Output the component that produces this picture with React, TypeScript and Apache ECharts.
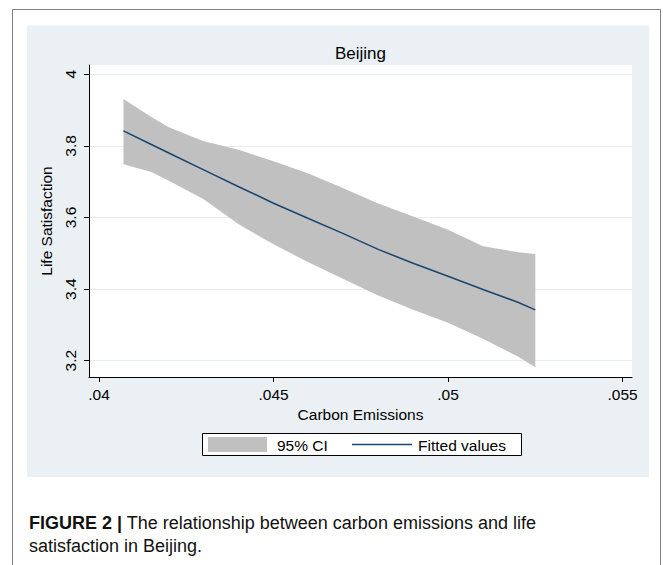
import React, { useEffect, useRef } from "react";
import * as echarts from "echarts";

// Carbon emissions (x) at which the fitted curve and CI are drawn
const xValues = [0.0407, 0.0415, 0.042, 0.043, 0.044, 0.045, 0.046, 0.047, 0.048, 0.049, 0.05, 0.051, 0.052, 0.0525];
// Fitted life satisfaction
const fittedValues = [3.842, 3.804, 3.78, 3.733, 3.686, 3.64, 3.597, 3.555, 3.511, 3.472, 3.436, 3.399, 3.363, 3.342];
// 95% CI upper / lower bounds
const ciUpper = [3.931, 3.881, 3.852, 3.813, 3.789, 3.757, 3.723, 3.682, 3.639, 3.603, 3.566, 3.52, 3.503, 3.498];
const ciLower = [3.749, 3.727, 3.703, 3.651, 3.581, 3.525, 3.475, 3.428, 3.382, 3.342, 3.306, 3.261, 3.212, 3.182];

const xTickValues = [0.04, 0.045, 0.05, 0.055];
const xTickLabels = [".04", ".045", ".05", ".055"];
const yTickValues = [3.2, 3.4, 3.6, 3.8, 4];
const yTickLabels = ["3.2", "3.4", "3.6", "3.8", "4"];

const chartTitle = "Beijing";
const xAxisTitle = "Carbon Emissions";
const yAxisTitle = "Life Satisfaction";
const legendLabels = ["95% CI", "Fitted values"];
const captionBold = "FIGURE 2 |";
const captionLine1 = " The relationship between carbon emissions and life";
const captionLine2 = "satisfaction in Beijing.";

const FONT = "'Liberation Sans', Arial, Helvetica, sans-serif";
const BAND = "#C0C0C0";
const NAVY = "#1A476F";

export default function App() {
  const ref = useRef<HTMLDivElement>(null);

  useEffect(() => {
    if (!ref.current) return;
    const chart = echarts.init(ref.current, null, { renderer: "svg" });

    const labelFor = (vals: number[], labels: string[]) => (v: number) => {
      const i = vals.findIndex((t) => Math.abs(t - v) < 1e-9);
      return i >= 0 ? labels[i] : "";
    };

    const bandData = xValues.map((x, i) => [x, ciLower[i], ciUpper[i]]);

    const option: any = {
      animation: false,
      backgroundColor: "#ffffff",
      textStyle: { fontFamily: FONT },
      grid: {
        left: 89,
        top: 65,
        width: 543,
        height: 312,
        show: true,
        backgroundColor: "#ffffff",
        borderWidth: 0,
        containLabel: false,
      },
      xAxis: {
        type: "value",
        min: 0.039713,
        max: 0.05527,
        axisLine: { show: true, onZero: false, lineStyle: { color: "#000", width: 1 } },
        axisTick: { show: true, length: 5, customValues: xTickValues, lineStyle: { color: "#000" } },
        axisLabel: {
          customValues: xTickValues,
          formatter: labelFor(xTickValues, xTickLabels),
          margin: 9,
          fontSize: 15.5,
          color: "#000",
          fontFamily: FONT,
        },
        splitLine: { show: false },
        name: xAxisTitle,
        nameLocation: "middle",
        nameGap: 22,
        nameTextStyle: { fontSize: 15.5, color: "#000", fontFamily: FONT },
      },
      yAxis: {
        type: "value",
        min: 3.1545,
        max: 4.026,
        axisLine: { show: true, onZero: false, lineStyle: { color: "#000", width: 1 } },
        axisTick: { show: true, length: 5, customValues: yTickValues, lineStyle: { color: "#000" } },
        axisLabel: {
          customValues: yTickValues,
          formatter: labelFor(yTickValues, yTickLabels),
          rotate: 90,
          margin: 11,
          fontSize: 15.5,
          color: "#000",
          fontFamily: FONT,
        },
        splitLine: { show: true, lineStyle: { color: "#E3EDF2", width: 1 } },
        name: yAxisTitle,
        nameLocation: "middle",
        nameGap: 21,
        nameTextStyle: { fontSize: 15.5, color: "#000", fontFamily: FONT },
      },
      series: [
        {
          type: "custom",
          name: legendLabels[0],
          silent: true,
          z: 2,
          encode: { x: 0, y: [1, 2] },
          data: bandData,
          renderItem: (params: any, api: any) => {
            if (params.dataIndex !== 0) return null;
            const top = bandData.map((d) => api.coord([d[0], d[2]]));
            const bottom = bandData.map((d) => api.coord([d[0], d[1]])).reverse();
            return {
              type: "polygon",
              shape: { points: top.concat(bottom) },
              style: { fill: BAND, stroke: null },
            };
          },
        },
        {
          type: "line",
          name: legendLabels[1],
          symbol: "none",
          silent: true,
          lineStyle: { color: NAVY, width: 1.6 },
          data: xValues.map((x, i) => [x, fittedValues[i]]),
          z: 3,
        },
      ],
      graphic: [
        {
          type: "rect",
          z: -5,
          silent: true,
          shape: { x: 27, y: 25.5, width: 622, height: 451.5 },
          style: { fill: "#EAF0F4" },
        },
        {
          type: "polyline",
          z: 10,
          silent: true,
          shape: { points: [[12.5, 565], [12.5, 9.5], [660.5, 9.5], [660.5, 565]] },
          style: { stroke: "#808080", lineWidth: 1, fill: null },
        },
        {
          type: "text",
          z: 10,
          x: 360.5,
          y: 53,
          style: {
            text: chartTitle,
            fill: "#000",
            font: `17px ${FONT}`,
            textAlign: "center",
            textVerticalAlign: "middle",
          },
        },
        // legend
        {
          type: "rect",
          z: 10,
          shape: { x: 202.5, y: 433.5, width: 319, height: 22 },
          style: { fill: "#fff", stroke: "#000", lineWidth: 1 },
        },
        {
          type: "rect",
          z: 11,
          shape: { x: 208, y: 437, width: 59, height: 15 },
          style: { fill: BAND },
        },
        {
          type: "text",
          z: 11,
          x: 277,
          y: 445,
          style: {
            text: legendLabels[0],
            fill: "#000",
            font: `15.5px ${FONT}`,
            textAlign: "left",
            textVerticalAlign: "middle",
          },
        },
        {
          type: "line",
          z: 11,
          shape: { x1: 352, y1: 444.5, x2: 412, y2: 444.5 },
          style: { stroke: NAVY, lineWidth: 1.6 },
        },
        {
          type: "text",
          z: 11,
          x: 418,
          y: 445,
          style: {
            text: legendLabels[1],
            fill: "#000",
            font: `15.5px ${FONT}`,
            textAlign: "left",
            textVerticalAlign: "middle",
          },
        },
        // caption
        {
          type: "text",
          z: 10,
          x: 29,
          y: 511.5,
          style: {
            text: `{b|${captionBold}}{r|${captionLine1}}\n{r|${captionLine2}}`,
            fill: "#111",
            textVerticalAlign: "top",
            rich: {
              b: { fontFamily: FONT, fontWeight: "bold", fontSize: 18, lineHeight: 23, fill: "#111" },
              r: { fontFamily: FONT, fontSize: 18, lineHeight: 23, fill: "#111" },
            },
          },
        },
      ],
    };

    chart.setOption(option);
    return () => {
      chart.dispose();
    };
  }, []);

  return (
    <div
      ref={ref}
      style={{ position: "fixed", left: 0, top: 0, width: 663, height: 565 }}
    />
  );
}
